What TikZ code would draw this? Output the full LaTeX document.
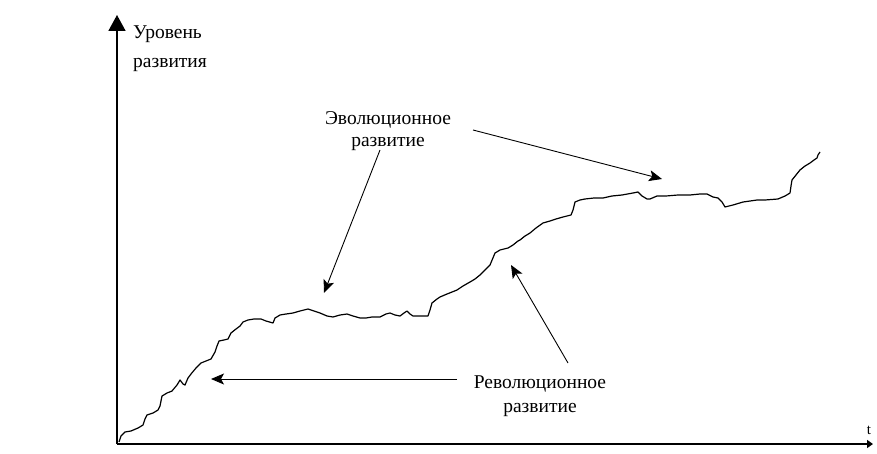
\documentclass[tikz,border=0pt]{standalone}
\usepackage{fontspec}
\setmainfont{Liberation Serif}
\usetikzlibrary{arrows.meta}
\begin{document}
\begin{tikzpicture}[x=1pt,y=-1pt,
  axis/.style={line width=1.6pt},
  curve/.style={line width=1.2pt, line join=round},
  pointer/.style={line width=0.9pt, -{Stealth[length=13pt,width=11pt,inset=3pt]}},
  lbl/.style={inner sep=0pt, font=\fontsize{19.5}{22}\selectfont},
  tlbl/.style={inner sep=0pt, font=\fontsize{15}{17}\selectfont}]
\useasboundingbox (0,0) rectangle (877,454);

% axes
\coordinate (origin) at (117,444);
\coordinate (ytop) at (117,15);
\coordinate (xend) at (873,444);
\draw[axis, -{Triangle[length=16pt,width=17pt]}] (origin) -- (ytop);
\draw[axis, -{Triangle[length=6pt,width=8pt]}] (origin) -- (xend);

\node[lbl, anchor=base west] (ylbl1) at (133,39) {Уровень};
\node[lbl, anchor=base west] (ylbl2) at (133,68) {развития};
\node[tlbl, anchor=base] (tlbl) at (869,434) {t};

% development curve
\draw[curve] plot coordinates {
(119,442)(121,436)(125,432)(131,431)(138,428)(143,425)(145,419)(147,415)
(153,413)(158,410)(160,406)(162,396)(167,393)(172,391)(177,385)(180,380)
(183,384)(185,385)(188,378)(191,374)(196,368)(201,363)(206,361)(211,359)
(215,352)(217,346)(219,341)(224,340)(228,339)(231,333)(236,329)(240,326)
(243,322)(248,320)(254,319)(261,319)(266,321)(273,323)(275,318)(280,315)
(286,314)(293,313)(300,311)(308,309)(314,311)(320,313)(327,316)(333,317)
(340,315)(347,314)(353,316)(360,318)(366,318)(372,317)(380,317)(386,314)
(390,313)(395,315)(400,316)(404,313)(407,311)(410,314)(413,316)(420,316)
(428,316)(430,310)(432,303)(437,299)(440,297)(447,294)(457,290)(463,286)
(470,282)(475,279)(480,275)(485,270)(490,265)(495,253)(500,250)(508,248)
(513,245)(518,241)(520,240)(525,236)(530,233)(536,228)(543,223)(550,221)
(556,219)(563,217)(571,215)(573,210)(575,202)(580,200)(585,199)(594,198)
(603,198)(612,196)(622,195)(633,193)(638,192)(642,196)(647,199)(650,199)
(657,196)(666,196)(678,195)(690,195)(700,194)(707,194)(713,197)(718,198)
(722,202)(725,207)(729,206)(733,205)(743,202)(750,201)(757,200)(765,200)
(778,199)(785,196)(790,193)(791,186)(792,180)(796,175)(800,170)(805,166)
(810,163)(814,160)(817,158)(818,155)(820,152)};

% labels
\node[lbl, anchor=base] (evo1) at (388,125) {Эволюционное};
\node[lbl, anchor=base] (evo2) at (388,147) {развитие};
\node[lbl, anchor=base] (rev1) at (540,388) {Революционное};
\node[lbl, anchor=base] (rev2) at (540,412) {развитие};

% pointers
\coordinate (evoA) at (380,150);
\coordinate (evoAtip) at (324,293);
\coordinate (evoB) at (473,130);
\coordinate (evoBtip) at (662,179);
\coordinate (revA) at (568,363);
\coordinate (revAtip) at (511,265);
\coordinate (revB) at (457,379);
\coordinate (revBtip) at (211,379);
\draw[pointer] (evoA) -- (evoAtip);
\draw[pointer] (evoB) -- (evoBtip);
\draw[pointer] (revA) -- (revAtip);
\draw[pointer] (revB) -- (revBtip);
\end{tikzpicture}
\end{document}
